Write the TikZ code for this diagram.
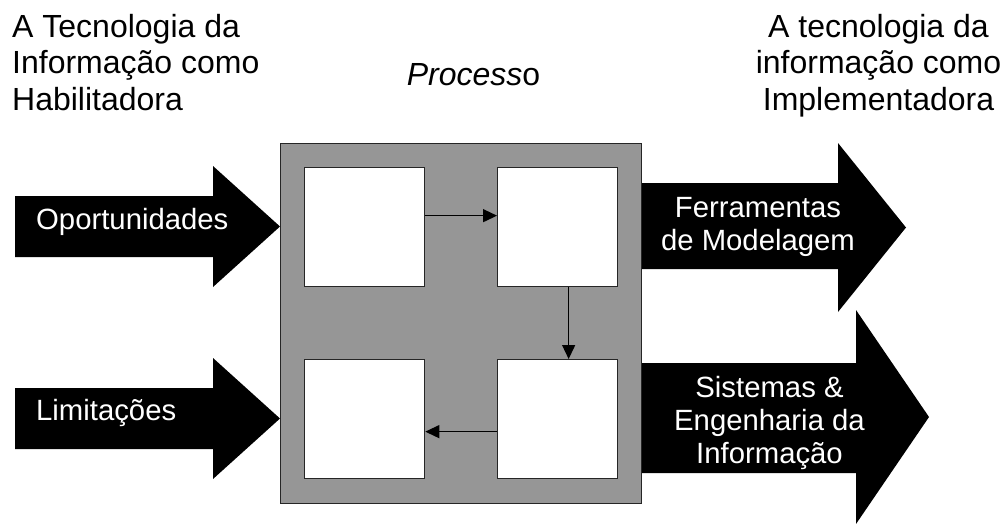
\documentclass[tikz,border=0pt]{standalone}
\usepackage{fontspec}
\setmainfont{Liberation Sans}
\usetikzlibrary{arrows.meta,calc}
\definecolor{boxgray}{RGB}{150,150,150}
\begin{document}
\begin{tikzpicture}[x=1pt,y=-1pt,
  toplabel/.style={font=\fontsize{32}{36.8}\selectfont, inner sep=0pt, anchor=base},
  arrowlabel/.style={font=\fontsize{29.3}{33.7}\selectfont, text=white, inner sep=0pt, anchor=base},
  bigarrow/.style={fill=black, draw=none},
  stagebox/.style={draw=black!85, line width=1.3pt, fill=white, minimum width=120pt, minimum height=119pt, inner sep=0pt, anchor=north west},
  procbox/.style={draw=black!85, line width=1.3pt, fill=boxgray, minimum width=361pt, minimum height=360pt, inner sep=0pt, anchor=north west},
  conn/.style={line width=1.3pt, -{Triangle[length=14pt,width=13pt]}}]
\useasboundingbox (0,0) rectangle (1007,523);
\clip (0,0) rectangle (1007,523);
% top labels
\node[toplabel, anchor=base west] (l1) at (12,37) {A Tecnologia da};
\node[toplabel, anchor=base west] (l2) at (12,73.8) {Informação como};
\node[toplabel, anchor=base west] (l3) at (12,110.6) {Habilitadora};
\node[toplabel] (p1) at (473.5,85) {\textit{Process}o};
\node[toplabel] (r1) at (878.5,37) {A tecnologia da};
\node[toplabel] (r2) at (878.5,73.8) {informação como};
\node[toplabel] (r3) at (878.5,110.6) {Implementadora};
% big arrows
\fill[bigarrow] (15,196) -- (213,196) -- (213,166) -- (280,226.5) -- (213,287) -- (213,257) -- (15,257) -- cycle;
\fill[bigarrow] (15,388) -- (213,388) -- (213,358) -- (280,418.5) -- (213,479) -- (213,449) -- (15,449) -- cycle;
\fill[bigarrow] (638,183) -- (838,183) -- (838,143) -- (906,227.5) -- (838,312) -- (838,269) -- (638,269) -- cycle;
\fill[bigarrow] (638,363) -- (856,363) -- (856,310) -- (929,417) -- (856,524) -- (856,473) -- (638,473) -- cycle;
\node[arrowlabel, anchor=base west] (a1) at (36,229) {Oportunidades};
\node[arrowlabel, anchor=base west] (a2) at (36,420) {Limitações};
\node[arrowlabel] (f1) at (758,217) {Ferramentas};
\node[arrowlabel] (f2) at (758,250) {de Modelagem};
\node[arrowlabel] (s1) at (769.5,397) {Sistemas \&};
\node[arrowlabel] (s2) at (769.5,430) {Engenharia da};
\node[arrowlabel] (s3) at (769.5,463) {Informação};
% process box
\node[procbox] (proc) at (280,143) {};
\node[stagebox] (tl) at (304,167) {};
\node[stagebox] (tr) at (497,167) {};
\node[stagebox] (bl) at (304,359) {};
\node[stagebox] (br) at (497,359) {};
\draw[conn] ([yshift=11.5pt]tl.east) -- ([yshift=11.5pt]tr.west);
\draw[conn] ([xshift=11pt]tr.south) -- ([xshift=11pt]br.north);
\draw[conn] ([yshift=-12.5pt]br.west) -- ([yshift=-12.5pt]bl.east);
\end{tikzpicture}
\end{document}
